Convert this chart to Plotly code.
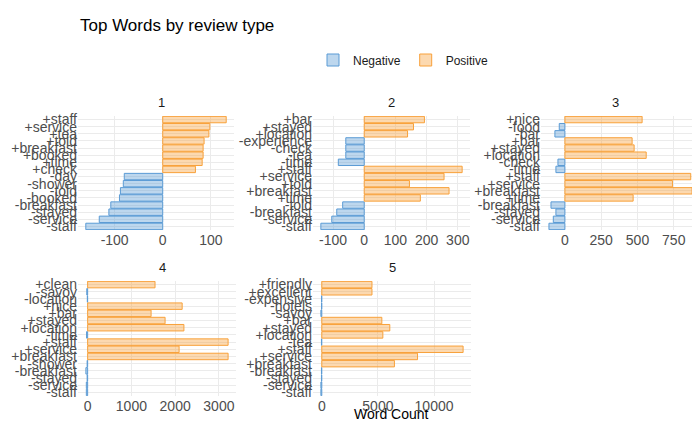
import plotly.graph_objects as go

# words listed top to bottom in each facet, with their signed counts
words1 = ["+staff", "+service", "+tea", "+told", "+breakfast", "+booked", "+time", "+check",
          "-day", "-shower", "-told", "-booked", "-breakfast", "-stayed", "-service", "-staff"]
vals1 = [132, 98, 96, 86, 84, 84, 82, 68, -80, -82, -88, -90, -108, -112, -132, -160]

words2 = ["+bar", "+stayed", "+location", "-experience", "-check", "-tea", "-time", "+staff",
          "+service", "+told", "+breakfast", "+time", "-told", "-breakfast", "-service", "-staff"]
vals2 = [193, 158, 139, -59, -59, -59, -83, 314, 256, 145, 272, 180, -69, -88, -104, -139]

words3 = ["+nice", "-food", "-bar", "+bar", "+stayed", "+location", "-check", "-time", "+staff",
          "+service", "+breakfast", "+time", "-breakfast", "-stayed", "-service", "-staff"]
vals3 = [532, -39, -69, 463, 477, 560, -48, -62, 867, 741, 876, 470, -96, -62, -80, -110]

words4 = ["+clean", "-savoy", "-location", "+nice", "+bar", "+stayed", "+location", "-time", "+staff",
          "+service", "+breakfast", "-shower", "-breakfast", "-stayed", "-service", "-staff"]
vals4 = [1540, -20, -8, 2160, 1450, 1770, 2200, -25, 3210, 2090, 3210, -12, -40, -12, -30, -30]

words5 = ["+friendly", "+excellent", "-expensive", "-hotels", "-savoy", "+bar", "+stayed", "+location", "-tea",
          "+staff", "+service", "+breakfast", "-breakfast", "-stayed", "-service", "-staff"]
vals5 = [4470, 4470, -20, -20, -80, 5350, 6060, 5440, -30, 12590, 8530, 6470, -30, -30, -80, -80]

facets = ["1", "2", "3", "4", "5"]
panels = [(words1, vals1), (words2, vals2), (words3, vals3), (words4, vals4), (words5, vals5)]
xticks = [[-100, 0, 100], [-100, 0, 100, 200, 300], [0, 250, 500, 750],
          [0, 1000, 2000, 3000], [0, 5000, 10000]]

W, H = 700, 432
# pixel boxes: (left, right, top, bottom)
boxes = [(70, 226, 108, 222), (305, 462, 108, 222), (533, 692, 108, 222),
         (70, 228, 273, 388), (305, 463, 273, 388)]

neg_col, pos_col = "#5B9BD5", "#F8A13A"
neg_fill, pos_fill = "rgba(91,155,213,0.4)", "rgba(248,161,58,0.4)"

fig = go.Figure()
for i, ((words, vals), box) in enumerate(zip(panels, boxes)):
    n = "" if i == 0 else str(i + 1)
    neg = [(w, v) for w, v in zip(words, vals) if v < 0]
    pos = [(w, v) for w, v in zip(words, vals) if v >= 0]
    fig.add_trace(go.Bar(y=[w for w, _ in neg], x=[v for _, v in neg], orientation="h",
                         marker=dict(color=neg_fill, line=dict(color=neg_col, width=1)),
                         name="Negative", legendgroup="neg", showlegend=(i == 0),
                         xaxis="x" + n, yaxis="y" + n, width=0.9))
    fig.add_trace(go.Bar(y=[w for w, _ in pos], x=[v for _, v in pos], orientation="h",
                         marker=dict(color=pos_fill, line=dict(color=pos_col, width=1)),
                         name="Positive", legendgroup="pos", showlegend=(i == 0),
                         xaxis="x" + n, yaxis="y" + n, width=0.9))
    l, r, t, b = box
    fig.layout["xaxis" + n] = dict(domain=[l / W, r / W], anchor="y" + n, automargin=False,
                                   tickmode="array", tickvals=xticks[i],
                                   ticktext=[str(v) for v in xticks[i]],
                                   showgrid=True, gridcolor="#EBEBEB",
                                   zeroline=False, ticks="", tickfont=dict(size=14, color="#4D4D4D"))
    fig.layout["yaxis" + n] = dict(domain=[1 - b / H, 1 - t / H], anchor="x" + n, automargin=False,
                                   categoryorder="array", categoryarray=words[::-1],
                                   tickmode="array", tickvals=words, ticktext=words,
                                   showgrid=True, gridcolor="#EBEBEB", ticks="",
                                   tickfont=dict(size=14, color="#4D4D4D"))
    fig.add_annotation(text=facets[i], x=(l + r) / 2 / W, y=1 - (t - 4) / H,
                       xref="paper", yref="paper", showarrow=False, yanchor="bottom",
                       font=dict(size=13, color="#1A1A1A"))

fig.add_annotation(text="Word Count", x=383 / W, y=1 - 416 / H, xref="paper", yref="paper",
                   showarrow=False, font=dict(size=14, color="#000000"))

fig.update_layout(
    width=W, height=H, margin=dict(l=0, r=0, t=0, b=0, autoexpand=False),
    plot_bgcolor="white", paper_bgcolor="white", bargap=0.1,
    font=dict(family="Liberation Sans, Arial, sans-serif"),
    title=dict(text="Top Words by review type", x=72 / W, y=1 - 17 / H, xanchor="left",
               yanchor="middle", font=dict(size=17, color="#000000")),
    legend=dict(orientation="h", x=305 / W, y=1 - 52 / H, xanchor="left", yanchor="middle",
                font=dict(size=12, color="#1A1A1A")),
)

fig.write_html("out.html")
